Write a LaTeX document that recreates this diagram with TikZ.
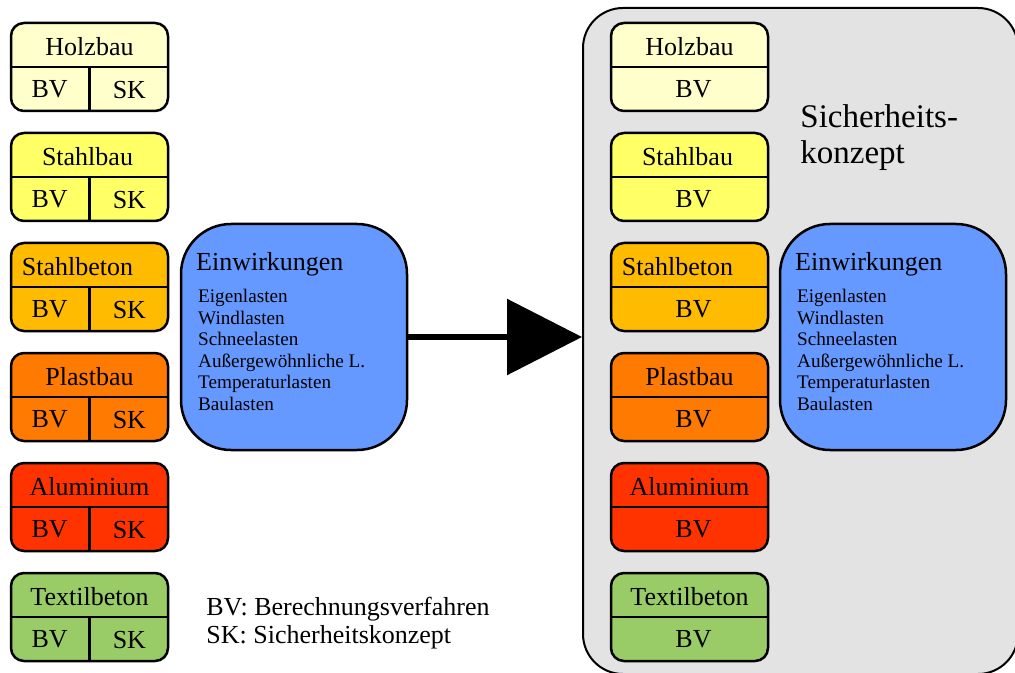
\documentclass[tikz,border=0pt]{standalone}
\usepackage{fontspec}
\setmainfont{Liberation Serif}
\usetikzlibrary{calc,arrows.meta}

\definecolor{holz}{HTML}{FFFFCC}
\definecolor{stahl}{HTML}{FFFF66}
\definecolor{beton}{HTML}{FFBB00}
\definecolor{plast}{HTML}{FF7A00}
\definecolor{alu}{HTML}{FF3300}
\definecolor{textil}{HTML}{99CC66}
\definecolor{blau}{HTML}{6699FF}
\definecolor{grau}{HTML}{E3E3E3}

\begin{document}
\begin{tikzpicture}[x=0.5pt,y=-0.5pt,
    werkstoff/.style={draw,line width=1.25pt,rounded corners=6.5pt,minimum width=78.5pt,minimum height=44pt,inner sep=0pt},
    einwirk/.style={draw,line width=1.25pt,fill=blau,rounded corners=25pt,minimum width=113pt,minimum height=113pt,inner sep=0pt},
    trenn/.style={line width=1.25pt},
    txt/.style={font=\fontsize{13}{14}\selectfont,inner sep=0pt},
    klein/.style={font=\fontsize{9.6}{10.8}\selectfont,inner sep=0pt,align=left}]
  \useasboundingbox (0,0) rectangle (1015,673);
  \clip (0,0) rectangle (1015,673);

  % grey frame on the right
  \node[draw,line width=1pt,fill=grau,rounded corners=20pt,minimum width=217.5pt,minimum height=333pt,inner sep=0pt] (rahmen) at (800.5,341) {};

  % materials: left with BV and SK, right with BV only
  \foreach \wname/\wfarbe/\wtext/\wdx [count=\i from 0] in {holz/holz/Holzbau/0,stahl/stahl/Stahlbau/-2,beton/beton/Stahlbeton/-12,plast/plast/Plastbau/0,alu/alu/Aluminium/0,textil/textil/Textilbeton/0} {
    \pgfmathsetmacro{\yy}{67+110*\i}
    \node[werkstoff,fill=\wfarbe] (\wname-l) at (89.5,\yy) {};
    \draw[trenn] (\wname-l.west) -- (\wname-l.east);
    \draw[trenn] (\wname-l.center) -- (\wname-l.south);
    \node[txt] (\wname-lkopf) at ($(\wname-l.north)!0.25!(\wname-l.south)+(\wdx,2)$) {\wtext};
    \node[txt] (\wname-lbv) at ($(\wname-l.south west)!0.5!(\wname-l.center)$) {BV};
    \node[txt] (\wname-lsk) at ($(\wname-l.center)!0.5!(\wname-l.south east)$) {SK};

    \node[werkstoff,fill=\wfarbe] (\wname-r) at (689.5,\yy) {};
    \draw[trenn] (\wname-r.west) -- (\wname-r.east);
    \node[txt] (\wname-rkopf) at ($(\wname-r.north)!0.25!(\wname-r.south)+(\wdx,2)$) {\wtext};
    \node[txt,xshift=2pt] (\wname-rbv) at ($(\wname-r.center)!0.5!(\wname-r.south)$) {BV};
  }

  % actions
  \node[einwirk] (einL) at (294,337) {};
  \node[einwirk] (einR) at (893,337) {};
  \foreach \e in {einL,einR} {
    \node[txt,anchor=base west] (\e-titel) at ($(\e.north west)+(16,48)$) {Einwirkungen};
    \node[klein,anchor=north west] (\e-liste) at ($(\e.north west)+(18,66)$)
      {Eigenlasten\\Windlasten\\Schneelasten\\Außergewöhnliche L.\\Temperaturlasten\\Baulasten};
  }

  \node[inner sep=0pt,anchor=north west,align=left,font=\fontsize{16.5}{18}\selectfont] (konzept) at (800,104) {Sicherheits-\\konzept};

  \draw[line width=3pt,-{Triangle[length=37.5pt,width=37.5pt]}] (einL.east) -- (einL.east -| rahmen.west);

  % legend
  \node[txt,anchor=north west,align=left] (legende) at (206,597) {BV: Berechnungsverfahren\\SK: Sicherheitskonzept};
\end{tikzpicture}
\end{document}
